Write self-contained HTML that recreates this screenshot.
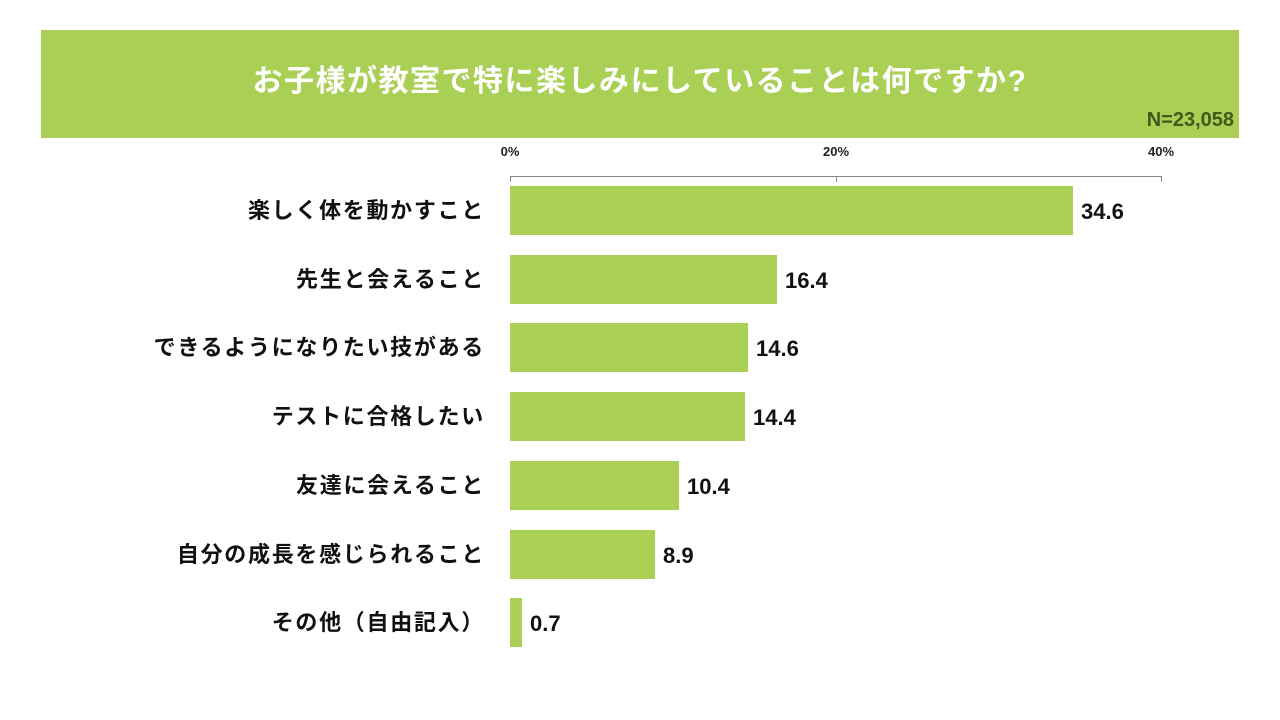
<!DOCTYPE html>
<html><head><meta charset="utf-8"><style>
body{margin:0;width:1280px;height:720px;background:#fff;position:relative;overflow:hidden;font-family:"Liberation Sans","Noto Sans CJK JP",sans-serif}
.banner{position:absolute;left:41px;top:30px;width:1198px;height:108px;background:#a9cf54}
.title{position:absolute;left:0;width:100%;top:61px;text-align:center;color:#fff;font-weight:bold;font-size:30px;letter-spacing:1.5px;line-height:42px}
.n{position:absolute;right:46px;top:108px;color:#3f5a1c;font-size:20px;font-weight:bold;line-height:24px}
.tick{position:absolute;top:144px;font-size:13px;font-weight:bold;color:#222;transform:translateX(-50%)}
.bar{position:absolute;left:510px;height:49px;background:#a9cf54}
.lab{position:absolute;right:795px;font-size:22px;letter-spacing:1.7px;font-weight:bold;color:#111;line-height:49px;white-space:nowrap}
.val{position:absolute;font-size:22px;font-weight:bold;color:#111;line-height:49px}
</style></head><body>
<div class="banner"></div>
<div class="title">お子様が教室で特に楽しみにしていることは何ですか?</div>
<div class="n">N=23,058</div>
<div class="tick" style="left:510px">0%</div>
<div class="tick" style="left:836px">20%</div>
<div class="tick" style="left:1161px">40%</div>
<svg style="position:absolute;left:0;top:0" width="1280" height="720"><path d="M510.5 182V176.5H1161.5V182M836.5 176.5V182" stroke="#888" stroke-width="1" fill="none"/></svg>

<div class="bar" style="top:186px;width:563px"></div><div class="lab" style="top:186px">楽しく体を動かすこと</div><div class="val" style="top:187px;left:1081px">34.6</div>
<div class="bar" style="top:255px;width:267px"></div><div class="lab" style="top:255px">先生と会えること</div><div class="val" style="top:256px;left:785px">16.4</div>
<div class="bar" style="top:323px;width:238px"></div><div class="lab" style="top:323px">できるようになりたい技がある</div><div class="val" style="top:324px;left:756px">14.6</div>
<div class="bar" style="top:392px;width:235px"></div><div class="lab" style="top:392px">テストに合格したい</div><div class="val" style="top:393px;left:753px">14.4</div>
<div class="bar" style="top:461px;width:169px"></div><div class="lab" style="top:461px">友達に会えること</div><div class="val" style="top:462px;left:687px">10.4</div>
<div class="bar" style="top:530px;width:145px"></div><div class="lab" style="top:530px">自分の成長を感じられること</div><div class="val" style="top:531px;left:663px">8.9</div>
<div class="bar" style="top:598px;width:12px"></div><div class="lab" style="top:598px">その他（自由記入）</div><div class="val" style="top:599px;left:530px">0.7</div>
</body></html>
